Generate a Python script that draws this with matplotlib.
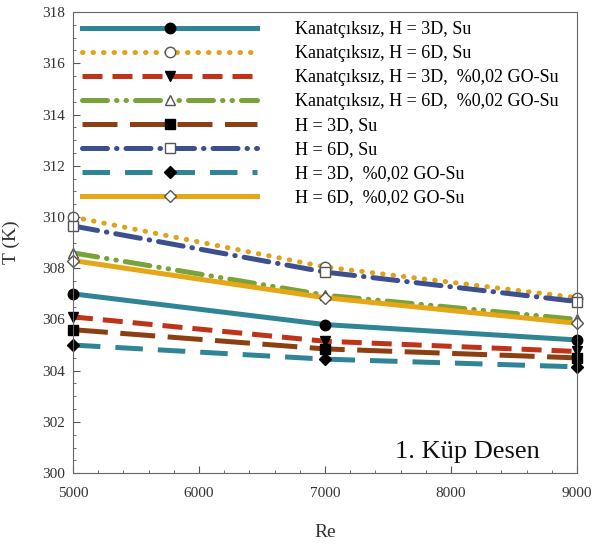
import matplotlib.pyplot as plt
from matplotlib.ticker import MultipleLocator

plt.rcParams['font.family'] = ['Liberation Serif', 'DejaVu Serif']

Re = [5000, 7000, 9000]

# sıcaklık değerleri (K)
k3_su = [307.0, 305.8, 305.2]
k6_su = [310.0, 308.05, 306.85]
k3_go = [306.1, 305.15, 304.75]
k6_go = [308.6, 306.95, 306.0]
h3_su = [305.6, 304.85, 304.5]
h6_su = [309.65, 307.85, 306.7]
h3_go = [305.0, 304.45, 304.15]
h6_go = [308.3, 306.85, 305.85]

labels = ['Kanatçıksız, H = 3D, Su',
          'Kanatçıksız, H = 6D, Su',
          'Kanatçıksız, H = 3D,  %0,02 GO-Su',
          'Kanatçıksız, H = 6D,  %0,02 GO-Su',
          'H = 3D, Su',
          'H = 6D, Su',
          'H = 3D,  %0,02 GO-Su',
          'H = 6D,  %0,02 GO-Su']

fig = plt.figure(figsize=(5.93, 5.47), dpi=100)
ax = fig.add_axes([0.123, 0.135, 0.850, 0.843])

lw = 3.6
ms = 7.5
ax.plot(Re, k3_su, color='#2f8596', lw=lw, ls='-', marker='o', ms=ms,
        mfc='black', mec='black', label=labels[0])
ax.plot(Re, k6_su, color='#e0a21c', lw=lw, ls=(0, (0.1, 2.0)), dash_capstyle='round',
        marker='o', ms=ms, mfc='white', mec='#555555', label=labels[1])
ax.plot(Re, k3_go, color='#bf3319', lw=lw, ls=(0, (4, 2)), marker='v', ms=ms,
        mfc='black', mec='black', label=labels[2])
ax.plot(Re, k6_go, color='#77a33a', lw=lw, ls=(0, (5, 1.8, 0.1, 1.8, 0.1, 1.8)),
        dash_capstyle='round', marker='^', ms=ms, mfc='white', mec='#555555', label=labels[3])
ax.plot(Re, h3_su, color='#8c4011', lw=lw, ls=(0, (7, 2.5)), marker='s', ms=ms,
        mfc='black', mec='black', label=labels[4])
ax.plot(Re, h6_su, color='#3c4f8e', lw=lw, ls=(0, (5, 1.8, 0.1, 1.8)),
        dash_capstyle='round', marker='s', ms=ms, mfc='white', mec='#555555', label=labels[5])
ax.plot(Re, h3_go, color='#2f8596', lw=lw, ls=(0, (5.5, 3)), marker='D', ms=ms - 1,
        mfc='black', mec='black', label=labels[6])
ax.plot(Re, h6_go, color='#e6a616', lw=lw, ls='-', marker='D', ms=ms - 1,
        mfc='white', mec='#555555', label=labels[7])

for line in ax.lines:
    line.set_clip_on(False)

ax.set_xlim(5000, 9000)
ax.set_ylim(300, 318)
ax.xaxis.set_major_locator(MultipleLocator(1000))
ax.xaxis.set_minor_locator(MultipleLocator(200))
ax.yaxis.set_major_locator(MultipleLocator(2))
ax.yaxis.set_minor_locator(MultipleLocator(0.5))
ax.tick_params(which='both', direction='in', colors='#555555', labelcolor='#333333',
               labelsize=11)
ax.tick_params(axis='x', which='major', pad=10)
ax.tick_params(axis='y', which='major', pad=6)
ax.tick_params(which='major', length=5)
ax.tick_params(which='minor', length=2.5)
for s in ax.spines.values():
    s.set_color('#666666')

ax.set_xlabel('Re', fontsize=14, color='#333333', labelpad=17)
ax.set_ylabel('T (K)', fontsize=14, color='#333333', labelpad=16)

ax.text(0.927, 0.045, '1. Küp Desen', transform=ax.transAxes, fontsize=19,
        ha='right', va='center', color='#111111')

ax.legend(loc='upper left', bbox_to_anchor=(0.0, 1.0), frameon=False,
          fontsize=13, handlelength=9.7, handletextpad=2.1, labelspacing=0.39,
          markerscale=1.0, borderaxespad=0.1)

fig.savefig('out.png', dpi=100)
